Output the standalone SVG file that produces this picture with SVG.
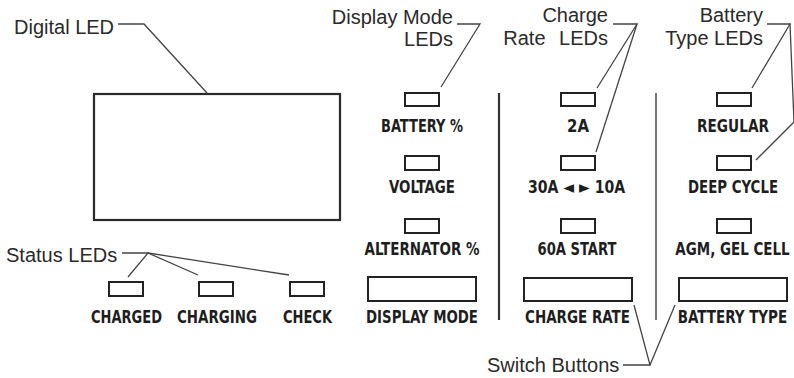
<svg xmlns="http://www.w3.org/2000/svg" width="794" height="378" viewBox="0 0 794 378">
<style>
.call{font-family:"Liberation Sans",Arial,sans-serif;font-size:20px;fill:#2a2a2a}
.lbl{font-family:"Liberation Sans Narrow","DejaVu Sans Condensed",sans-serif;font-weight:bold;font-size:17px;fill:#1e1e1e;text-anchor:middle}
.led{fill:#fff;stroke:#222;stroke-width:2}
.btn{fill:#fff;stroke:#222;stroke-width:2}
.lead{fill:none;stroke:#444;stroke-width:1.3}
.div1{stroke:#333;stroke-width:2.2}
.div2{stroke:#777;stroke-width:2}
</style>
<rect width="794" height="378" fill="#fff"/>
<g id="digital-led">
<rect x="94" y="94" width="246" height="126" fill="#fff" stroke="#2a2a2a" stroke-width="2.2"/>
<text class="call" x="14" y="34">Digital LED</text>
</g>
<g id="dividers">
<line class="div1" x1="499" y1="93" x2="499" y2="320"/>
<line class="div2" x1="656" y1="93" x2="656" y2="320"/>
</g>
<g id="callout-labels">
<text class="call" x="453" y="24" text-anchor="end">Display Mode</text>
<text class="call" x="453" y="46" text-anchor="end">LEDs</text>
<text class="call" x="608" y="22" text-anchor="end">Charge</text>
<text class="call" x="608" y="45" text-anchor="end" word-spacing="8">Rate LEDs</text>
<text class="call" x="763" y="22" text-anchor="end">Battery</text>
<text class="call" x="763" y="45" text-anchor="end">Type LEDs</text>
<text class="call" x="6" y="262">Status LEDs</text>
<text class="call" x="487" y="372">Switch Buttons</text>
</g>
<g id="status-leds">
<rect class="led" x="109" y="282" width="34" height="14"/>
<rect class="led" x="199" y="282" width="34" height="14"/>
<rect class="led" x="290" y="282" width="34" height="14"/>
<text class="lbl" x="126.5" y="323" textLength="71" lengthAdjust="spacingAndGlyphs">CHARGED</text>
<text class="lbl" x="217" y="323" textLength="80" lengthAdjust="spacingAndGlyphs">CHARGING</text>
<text class="lbl" x="307.5" y="323" textLength="49" lengthAdjust="spacingAndGlyphs">CHECK</text>
</g>
<g id="display-mode">
<rect class="led" x="405" y="93" width="34" height="13"/>
<rect class="led" x="405" y="156" width="34" height="14"/>
<rect class="led" x="405" y="219" width="34" height="14"/>
<text class="lbl" x="422" y="132" textLength="82" lengthAdjust="spacingAndGlyphs">BATTERY %</text>
<text class="lbl" x="422" y="193" textLength="66" lengthAdjust="spacingAndGlyphs">VOLTAGE</text>
<text class="lbl" x="422" y="255" textLength="115" lengthAdjust="spacingAndGlyphs">ALTERNATOR %</text>
<rect class="btn" x="368" y="277" width="108" height="24"/>
<text class="lbl" x="422" y="323" textLength="112" lengthAdjust="spacingAndGlyphs">DISPLAY MODE</text>
</g>
<g id="charge-rate">
<rect class="led" x="561" y="93" width="34" height="13"/>
<rect class="led" x="561" y="156" width="34" height="14"/>
<rect class="led" x="561" y="219" width="34" height="14"/>
<text class="lbl" x="578" y="132" textLength="22" lengthAdjust="spacingAndGlyphs">2A</text>
<text class="lbl" transform="translate(576.5,193) scale(0.92,1)">30A ◄ ► 10A</text>
<text class="lbl" x="577" y="255" textLength="79" lengthAdjust="spacingAndGlyphs">60A START</text>
<rect class="btn" x="524" y="278" width="108" height="23"/>
<text class="lbl" x="577.5" y="323" textLength="105" lengthAdjust="spacingAndGlyphs">CHARGE RATE</text>
</g>
<g id="battery-type">
<rect class="led" x="717" y="93" width="34" height="13"/>
<rect class="led" x="717" y="156" width="34" height="14"/>
<rect class="led" x="717" y="219" width="34" height="14"/>
<text class="lbl" x="733" y="132" textLength="72" lengthAdjust="spacingAndGlyphs">REGULAR</text>
<text class="lbl" x="733" y="193" textLength="90" lengthAdjust="spacingAndGlyphs">DEEP CYCLE</text>
<text class="lbl" transform="translate(732.5,255) scale(0.88,1)">AGM, GEL CELL</text>
<rect class="btn" x="679" y="278" width="108" height="23"/>
<text class="lbl" transform="translate(732.5,323) scale(0.88,1)">BATTERY TYPE</text>
</g>
<g id="connectors">
<polyline class="lead" points="118,24 144,24 207,93"/>
<polyline class="lead" points="457,24 480,24 441,87"/>
<polyline class="lead" points="613,24 637,24 597,88"/>
<line class="lead" x1="637" y1="24" x2="596" y2="152"/>
<polyline class="lead" points="767,24 790,24 752,88"/>
<polyline class="lead" points="790,24 794,122 756,160"/>
<polyline class="lead" points="122,253 148,253 128,277"/>
<line class="lead" x1="148" y1="253" x2="198" y2="275"/>
<line class="lead" x1="148" y1="253" x2="289" y2="275"/>
<polyline class="lead" points="623,365 650,365 634,305"/>
<line class="lead" x1="650" y1="365" x2="675" y2="305"/>
</g>
</svg>
